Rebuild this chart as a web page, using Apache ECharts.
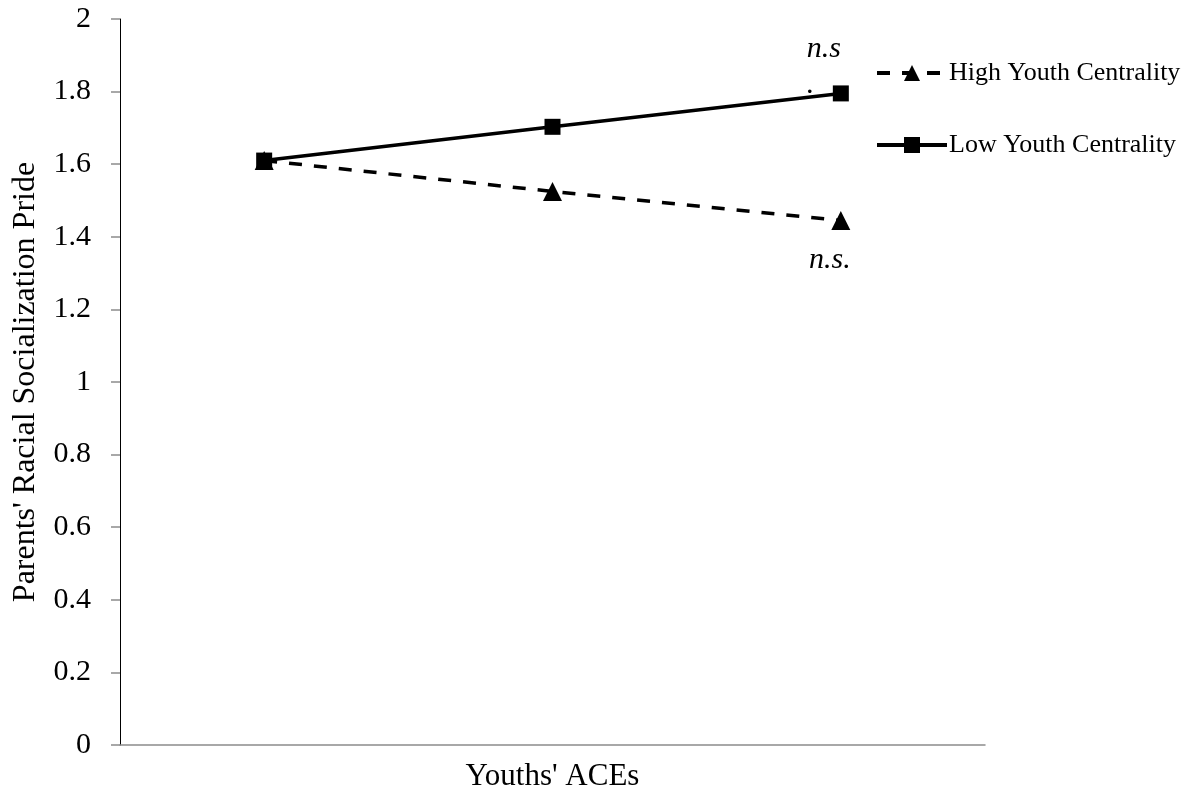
<!DOCTYPE html>
<html>
<head>
<meta charset="utf-8">
<script src="https://cdn.jsdelivr.net/npm/echarts@6/dist/echarts.min.js"></script>
<style>html,body{margin:0;padding:0;background:#fff;}#c{width:1192px;height:797px;}</style>
</head>
<body>
<div id="c"></div>
<script>
var categories = ['Low', 'Mean', 'High'];
var highCentrality = [1.61, 1.525, 1.445];
var lowCentrality = [1.61, 1.703, 1.795];
var yTicks = [0, 0.2, 0.4, 0.6, 0.8, 1, 1.2, 1.4, 1.6, 1.8, 2];

var FONT = '"Liberation Serif", "Times New Roman", serif';

function withLabel(arr, labelOpt) {
  return arr.map(function (v, i) {
    if (i !== arr.length - 1) return v;
    return { value: v, label: labelOpt };
  });
}

var chart = echarts.init(document.getElementById('c'));
chart.setOption({
  animation: false,
  backgroundColor: '#fff',
  grid: { left: 120, right: 207, top: 19, bottom: 50 },
  legend: {
    orient: 'vertical',
    left: 870, top: 55,
    itemWidth: 70, itemHeight: 20,
    itemGap: 46,
    lineStyle: { width: 4 },
    textStyle: { fontFamily: FONT, fontSize: 26, lineHeight: 26, color: '#000', padding: [0, 0, 0, -3] },
    data: ['High Youth Centrality', 'Low Youth Centrality']
  },
  xAxis: {
    type: 'category',
    data: categories,
    boundaryGap: true,
    name: "Youths' ACEs",
    nameLocation: 'middle',
    nameGap: 16,
    nameTextStyle: { fontFamily: FONT, fontSize: 31, color: '#000', verticalAlign: 'top' },
    axisLine: { lineStyle: { color: '#8c8c8c', width: 1.5 } },
    axisTick: { show: false },
    axisLabel: { show: false }
  },
  yAxis: {
    type: 'value',
    min: 0, max: 2, interval: 0.2,
    name: "Parents' Racial Socialization Pride",
    nameLocation: 'middle',
    nameGap: 78,
    nameTextStyle: { fontFamily: FONT, fontSize: 32, color: '#000' },
    axisLine: { show: true, lineStyle: { color: '#000', width: 1 } },
    axisTick: { show: true, length: 9, lineStyle: { color: '#8c8c8c', width: 1.5 } },
    axisLabel: {
      fontFamily: FONT, fontSize: 30, color: '#000', margin: 29,
      formatter: function (v) {
        var t = yTicks.filter(function (x) { return Math.abs(x - v) < 1e-9; });
        return t.length ? String(t[0]) : '';
      }
    },
    splitLine: { show: false }
  },
  series: [
    {
      name: 'High Youth Centrality',
      type: 'line',
      data: withLabel(highCentrality, {
        show: true, formatter: 'n.s.', position: 'bottom', offset: [-11, 10],
        fontFamily: FONT, fontStyle: 'italic', fontSize: 30, lineHeight: 30, color: '#000'
      }),
      symbol: 'triangle',
      symbolSize: 19,
      itemStyle: { color: '#000' },
      lineStyle: { color: '#000', width: 3.5, type: [13, 12] },
      z: 2
    },
    {
      name: 'Low Youth Centrality',
      type: 'line',
      data: withLabel(lowCentrality, {
        show: true, formatter: 'n.s\n.', position: 'top', align: 'left', offset: [-34, 23],
        fontFamily: FONT, fontStyle: 'italic', fontSize: 30, lineHeight: 36, color: '#000'
      }),
      symbol: 'rect',
      symbolSize: 16,
      itemStyle: { color: '#000' },
      lineStyle: { color: '#000', width: 3.5 },
      z: 3
    }
  ]
});
</script>
</body>
</html>
